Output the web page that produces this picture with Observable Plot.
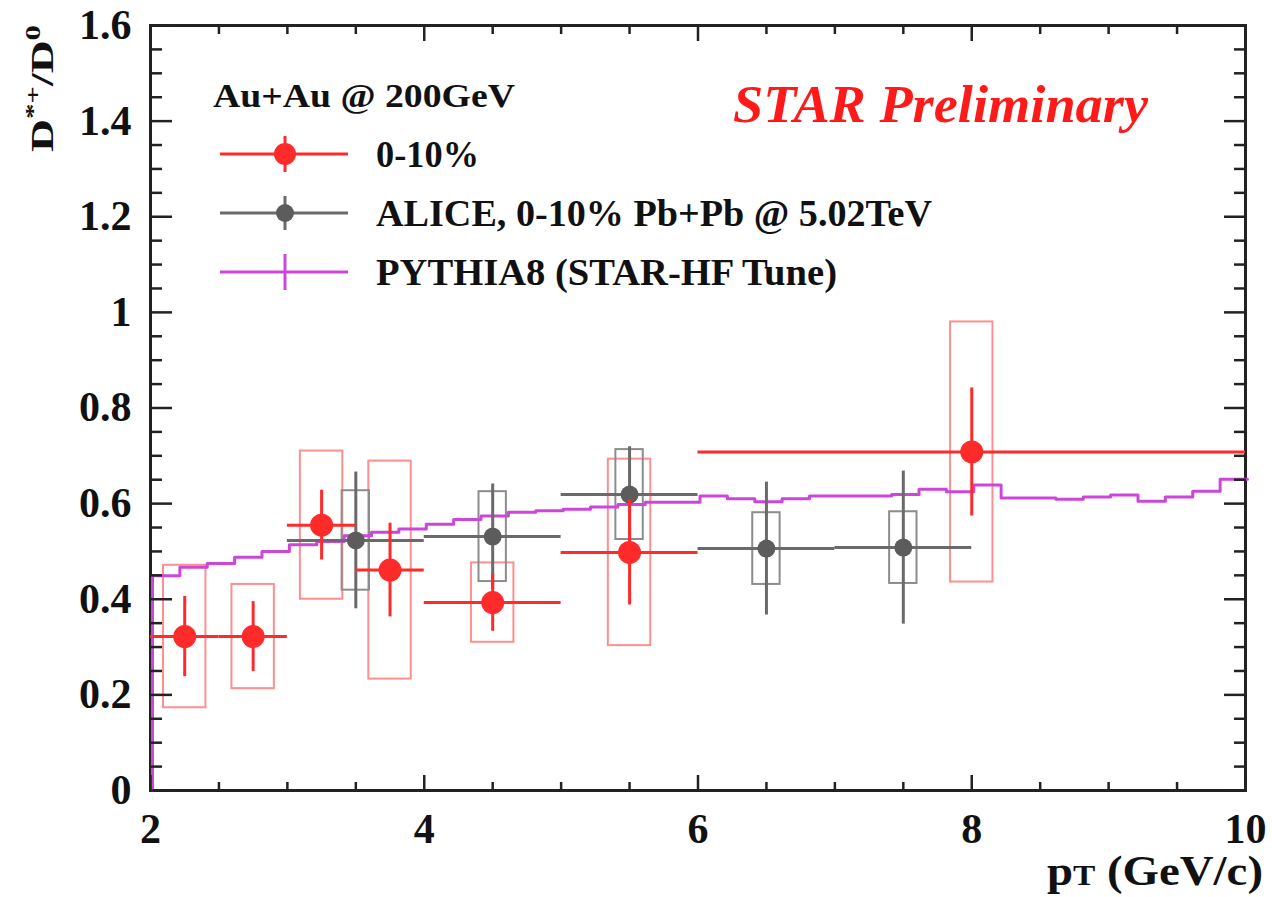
<!DOCTYPE html>
<html><head><meta charset="utf-8">
<script src="https://cdn.jsdelivr.net/npm/d3@7"></script>
<script src="https://cdn.jsdelivr.net/npm/@observablehq/plot@0.6"></script>
<style>
html,body{margin:0;padding:0;background:#fff;}
#wrap{position:relative;width:1272px;height:897px;}
#wrap svg{position:absolute;left:0;top:0;}
</style></head><body><div id="wrap"></div>
<script>
// STAR Au+Au 200 GeV, 0-10%
const starPt   = [2.25, 2.75, 3.25, 3.75, 4.5, 5.5, 8];
const starLo   = [2, 2.5, 3, 3.5, 4, 5, 6];
const starHi   = [2.5, 3, 3.5, 4, 5, 6, 10];
const starVal  = [0.322, 0.322, 0.555, 0.461, 0.393, 0.498, 0.708];
const starStat = [0.084, 0.073, 0.073, 0.098, 0.060, 0.110, 0.134];
const starSys  = [0.149, 0.109, 0.155, 0.228, 0.083, 0.195, 0.272];
// ALICE Pb+Pb 5.02 TeV, 0-10%
const alicePt   = [3.5, 4.5, 5.5, 6.5, 7.5];
const aliceLo   = [3, 4, 5, 6, 7];
const aliceHi   = [4, 5, 6, 7, 8];
const aliceVal  = [0.523, 0.531, 0.619, 0.506, 0.508];
const aliceStat = [0.143, 0.110, 0.100, 0.139, 0.160];
const aliceSys  = [0.104, 0.094, 0.094, 0.075, 0.075];
// PYTHIA8 histogram (bin low edges and contents)
const pythiaLo = [2.0,2.2,2.4,2.6,2.8,3.0,3.2,3.4,3.6,3.8,4.0,4.2,4.4,4.6,4.8,5.0,5.2,5.4,5.6,5.8,
                  6.0,6.2,6.4,6.6,6.8,7.0,7.2,7.4,7.6,7.8,8.0,8.2,8.4,8.6,8.8,9.0,9.2,9.4,9.6,9.8];
const pythiaVal = [0.449,0.467,0.475,0.488,0.500,0.514,0.521,0.533,0.540,0.547,0.557,0.567,0.574,0.582,0.585,0.588,0.593,0.598,0.603,0.603,
                   0.616,0.610,0.604,0.610,0.616,0.616,0.616,0.619,0.630,0.625,0.639,0.612,0.612,0.609,0.614,0.618,0.605,0.614,0.626,0.651];
const pythiaEnd = 10;
// ticks
const xMajor = [2, 4, 6, 8, 10];
const xMinor = [2.5, 3, 3.5, 4.5, 5, 5.5, 6.5, 7, 7.5, 8.5, 9, 9.5];
const yMajor = [0, 0.2, 0.4, 0.6, 0.8, 1.0, 1.2, 1.4, 1.6];
const yLabels = ["0", "0.2", "0.4", "0.6", "0.8", "1", "1.2", "1.4", "1.6"];
const yMinor = [0.05,0.1,0.15,0.25,0.3,0.35,0.45,0.5,0.55,0.65,0.7,0.75,0.85,0.9,0.95,1.05,1.1,1.15,1.25,1.3,1.35,1.45,1.5,1.55];
// texts
const legendHeader = "Au+Au @ 200GeV";
const legendLabels = ["0-10%", "ALICE, 0-10% Pb+Pb @ 5.02TeV", "PYTHIA8 (STAR-HF Tune)"];
const prelimText = "STAR Preliminary";

const RED = "#ff2b2b", REDBOX = "#ff8f8f", GRAY = "#5c5c5c", GRAYLINE = "#6a6a6a", GRAYBOX = "#8c8c8c", MAG = "#cc46dc";
const FONT = "'Liberation Serif', 'Times New Roman', serif";

const star = starPt.map((p, i) => ({pt: p, lo: starLo[i], hi: starHi[i], v: starVal[i], stat: starStat[i], sys: starSys[i]}));
const alice = alicePt.map((p, i) => ({pt: p, lo: aliceLo[i], hi: aliceHi[i], v: aliceVal[i], stat: aliceStat[i], sys: aliceSys[i]}));
const pythiaLine = [{x: pythiaLo[0], y: 0}]
  .concat(pythiaLo.map((x, i) => ({x, y: pythiaVal[i]})))
  .concat([{x: pythiaEnd, y: pythiaVal[pythiaVal.length - 1]}]);

const starBoxHalf = 0.155, aliceBoxHalf = 0.1;

const chart = Plot.plot({
  width: 1272, height: 897,
  marginLeft: 150, marginRight: 27, marginTop: 25, marginBottom: 107,
  x: {domain: [2, 10]},
  y: {domain: [0, 1.6]},
  style: {fontFamily: FONT, background: "transparent", color: "#111"},
  marks: [
    Plot.frame({stroke: "#222", strokeWidth: 3}),
    Plot.rect(star, {x1: d => d.pt - starBoxHalf, x2: d => d.pt + starBoxHalf, y1: d => d.v - d.sys, y2: d => d.v + d.sys, fill: "none", stroke: REDBOX, strokeWidth: 2}),
    Plot.rect(alice, {x1: d => d.pt - aliceBoxHalf, x2: d => d.pt + aliceBoxHalf, y1: d => d.v - d.sys, y2: d => d.v + d.sys, fill: "none", stroke: GRAYBOX, strokeWidth: 2}),
    Plot.line(pythiaLine, {x: "x", y: "y", curve: "step-after", stroke: MAG, strokeWidth: 3, dx: 2}),
    Plot.ruleY(alice, {y: "v", x1: "lo", x2: "hi", stroke: GRAYLINE, strokeWidth: 3}),
    Plot.ruleX(alice, {x: "pt", y1: d => d.v - d.stat, y2: d => d.v + d.stat, stroke: GRAYLINE, strokeWidth: 3}),
    Plot.dot(alice, {x: "pt", y: "v", r: 9, fill: GRAY}),
    Plot.ruleY(star, {y: "v", x1: "lo", x2: "hi", stroke: RED, strokeWidth: 3}),
    Plot.ruleX(star, {x: "pt", y1: d => d.v - d.stat, y2: d => d.v + d.stat, stroke: RED, strokeWidth: 3}),
    Plot.dot(star, {x: "pt", y: "v", r: 11.5, fill: RED}),
    // inward ticks on all four sides
    Plot.axisX({anchor: "bottom", ticks: xMajor, tickSize: -15, strokeWidth: 2.5, text: null, label: null, stroke: "#222"}),
    Plot.axisX({anchor: "bottom", ticks: xMinor, tickSize: -8, strokeWidth: 2.5, text: null, label: null, stroke: "#222"}),
    Plot.axisX({anchor: "top", ticks: xMajor, tickSize: -15, strokeWidth: 2.5, text: null, label: null, stroke: "#222"}),
    Plot.axisX({anchor: "top", ticks: xMinor, tickSize: -8, strokeWidth: 2.5, text: null, label: null, stroke: "#222"}),
    Plot.axisY({anchor: "left", ticks: yMajor, tickSize: -22, strokeWidth: 2.5, text: null, label: null, stroke: "#222"}),
    Plot.axisY({anchor: "left", ticks: yMinor, tickSize: -12, strokeWidth: 2.5, text: null, label: null, stroke: "#222"}),
    Plot.axisY({anchor: "right", ticks: yMajor, tickSize: -22, strokeWidth: 2.5, text: null, label: null, stroke: "#222"}),
    Plot.axisY({anchor: "right", ticks: yMinor, tickSize: -12, strokeWidth: 2.5, text: null, label: null, stroke: "#222"}),
    // tick labels
    Plot.axisX({anchor: "bottom", ticks: xMajor, tickSize: 0, tickPadding: 23, tickFormat: d => String(d), label: null,
                fontSize: 42, fontWeight: "bold", fill: "#111"}),
    Plot.axisY({anchor: "left", ticks: yMajor, tickSize: 0, tickPadding: 19, tickFormat: d => yLabels[yMajor.indexOf(d)], label: null,
                fontSize: 42, fontWeight: "bold", fill: "#111"})
  ]
});
document.getElementById("wrap").appendChild(chart);

// overlay: legend, annotations, axis titles
const ov = d3.select("#wrap").append("svg").attr("width", 1272).attr("height", 897)
  .style("font-family", FONT).style("font-weight", "bold");

ov.append("text").attr("x", 213).attr("y", 107).attr("font-size", 33).attr("fill", "#111")
  .attr("textLength", 302).attr("lengthAdjust", "spacingAndGlyphs").text(legendHeader);

const legendRows = [
  {y: 154, color: RED, r: 11, bar: 18, w: 103},
  {y: 213, color: GRAYLINE, dot: GRAY, r: 9, bar: 17, w: 556},
  {y: 272, color: MAG, r: 0, bar: 18, w: 461}
];
legendRows.forEach((row, i) => {
  const g = ov.append("g");
  g.append("line").attr("x1", 220).attr("x2", 348).attr("y1", row.y).attr("y2", row.y).attr("stroke", row.color).attr("stroke-width", 3);
  g.append("line").attr("x1", 285).attr("x2", 285).attr("y1", row.y - row.bar).attr("y2", row.y + row.bar).attr("stroke", row.color).attr("stroke-width", 3);
  if (row.r > 0) g.append("circle").attr("cx", 285).attr("cy", row.y).attr("r", row.r).attr("fill", row.dot || row.color);
  g.append("text").attr("x", 376).attr("y", row.y + 13).attr("font-size", 38).attr("fill", "#111")
    .attr("textLength", row.w).attr("lengthAdjust", "spacingAndGlyphs").text(legendLabels[i]);
});

ov.append("text").attr("x", 733).attr("y", 122).attr("font-size", 53).attr("font-style", "italic").attr("fill", "#ff1a1a")
  .attr("textLength", 415).attr("lengthAdjust", "spacingAndGlyphs").text(prelimText);

// x-axis title
const xt = ov.append("text").attr("x", 1047).attr("y", 885).attr("font-size", 42).attr("fill", "#111")
  .attr("textLength", 216).attr("lengthAdjust", "spacingAndGlyphs");
xt.append("tspan").text("p");
xt.append("tspan").attr("font-size", 30).text("T");
xt.append("tspan").text(" (GeV/c)");

// y-axis title
const yt = ov.append("text").attr("transform", "translate(53,152) rotate(-90)").attr("font-size", 31).attr("fill", "#111")
  .attr("textLength", 127).attr("lengthAdjust", "spacingAndGlyphs");
yt.append("tspan").text("D");
yt.append("tspan").attr("font-size", 21).attr("dy", -13).text("*+");
yt.append("tspan").attr("dy", 13).text("/D");
yt.append("tspan").attr("font-size", 21).attr("dy", -13).text("0");
</script></body></html>
